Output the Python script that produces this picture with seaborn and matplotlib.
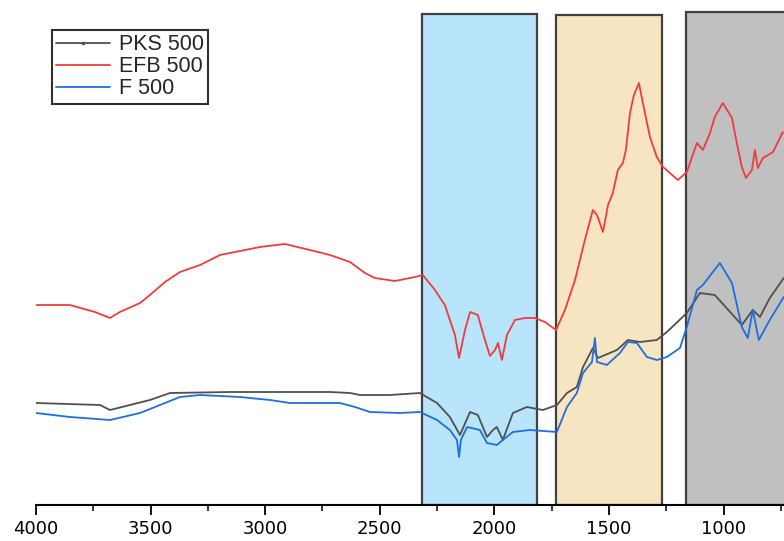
import pandas as pd
import matplotlib.pyplot as plt
from matplotlib.lines import Line2D
import seaborn as sns

# Спектры (волновое число, см-1 -> пропускание, усл. ед.)
efb_wn = [4000, 3852, 3743, 3677, 3634, 3546, 3503, 3437, 3372, 3284, 3197, 3154, 3088, 3023,
          2914, 2805, 2717, 2630, 2565, 2521, 2434, 2346, 2312, 2259, 2216, 2172, 2154, 2128,
          2106, 2072, 2041, 2019, 1997, 1984, 1967, 1945, 1910, 1867, 1823, 1779, 1731, 1692,
          1648, 1605, 1570, 1552, 1526, 1504, 1483, 1461, 1439, 1426, 1408, 1391, 1369, 1352,
          1321, 1291, 1264, 1199, 1160, 1116, 1090, 1059, 1038, 1003, 963, 942, 920, 902, 876,
          863, 850, 828, 784, 741]
efb_t = [200, 200, 193, 187, 193, 202, 210, 223, 233, 240, 250, 252, 255, 258,
         261, 255, 250, 243, 232, 227, 224, 228, 230, 215, 200, 170, 147, 175,
         193, 190, 165, 149, 155, 162, 145, 170, 185, 187, 187, 183, 175, 195,
         225, 265, 295, 290, 273, 300, 312, 335, 342, 355, 392, 410, 422, 402,
         368, 348, 338, 325, 333, 362, 355, 372, 388, 402, 387, 362, 338, 327, 335,
         355, 337, 347, 353, 373]

pks_wn = [4000, 3721, 3677, 3503, 3415, 3154, 2717, 2630, 2586, 2455, 2325,
          2250, 2194, 2150, 2106, 2072, 2032, 2006, 1989, 1963, 1919, 1858, 1788, 1727, 1683,
          1640, 1613, 1570, 1548, 1465, 1417, 1365, 1291, 1247, 1160, 1103, 1038, 920, 872,
          841, 798, 737]
pks_t = [102, 100, 95, 105, 112, 113, 113, 112, 110, 110, 112,
         102, 88, 70, 93, 90, 68, 75, 78, 65, 92, 98, 95, 100, 112,
         118, 138, 157, 147, 155, 165, 163, 165, 173, 192, 212, 210, 180, 195,
         188, 207, 227]

f_wn = [4000, 3852, 3677, 3546, 3459, 3372, 3284, 3110, 2979, 2892, 2674, 2608, 2543, 2412,
        2325, 2250, 2194, 2163, 2154, 2146, 2119, 2063, 2032, 1989, 1963, 1919, 1845, 1727,
        1683, 1640, 1613, 1574, 1561, 1552, 1509, 1452, 1417, 1378, 1334, 1291, 1247, 1190,
        1160, 1116, 1090, 1016, 963, 920, 894, 872, 846, 798, 737]
f_t = [92, 88, 85, 92, 100, 108, 110, 108, 105, 102, 102, 98, 93, 92,
       93, 85, 75, 65, 48, 65, 78, 75, 62, 60, 65, 73, 75, 73,
       98, 112, 132, 143, 167, 143, 140, 152, 163, 162, 148, 145, 148, 157,
       178, 215, 220, 242, 222, 178, 167, 195, 165, 185, 208]

# Выделенные области (см-1)
regions = [(2316, 1814), (1731, 1269), (1164, 600)]
region_colors = ['#b8e4fc', '#f7e5c2', '#c0c0c0']
region_tops = [491, 490, 493]

series = [('PKS 500', pks_wn, pks_t, '#505050'),
          ('EFB 500', efb_wn, efb_t, '#f03c3c'),
          ('F 500', f_wn, f_t, '#1e6fdc')]

sns.set_style('ticks')
plt.rcParams['font.family'] = ['DejaVu Sans']

fig = plt.figure(figsize=(7.84, 5.41), dpi=100)
ax = fig.add_axes([36 / 784, 36 / 541, 748 / 784, 505 / 541])

ymax = 505
for (a, b), col, top in zip(regions, region_colors, region_tops):
    ax.axvspan(a, b, ymin=0, ymax=top / ymax, facecolor=col, edgecolor='#404040',
               linewidth=1.6, zorder=1)

for name, wn, t, col in series:
    df = pd.DataFrame({'wn': wn, 't': t})
    sns.lineplot(data=df, x='wn', y='t', ax=ax, color=col, linewidth=1.3,
                 sort=False, zorder=3)

ax.set_xlim(4000, 736)
ax.set_ylim(0, ymax)
ax.set_xticks([4000, 3500, 3000, 2500, 2000, 1500, 1000])
ax.set_xticks([3750, 3250, 2750, 2250, 1750, 1250, 750], minor=True)
ax.tick_params(axis='x', which='major', direction='out', length=7, width=1.3,
               labelsize=13, colors='black')
ax.tick_params(axis='x', which='minor', direction='out', length=4, width=1.3)
ax.set_yticks([])
ax.set_xlabel('')
ax.set_ylabel('')
for s in ['top', 'right', 'left']:
    ax.spines[s].set_visible(False)
ax.spines['bottom'].set_linewidth(1.5)
ax.spines['bottom'].set_color('black')

handles = [Line2D([], [], color='#505050', linewidth=1.3, marker='s', markersize=2),
           Line2D([], [], color='#f03c3c', linewidth=1.3),
           Line2D([], [], color='#1e6fdc', linewidth=1.3)]
leg = ax.legend(handles, [s[0] for s in series], loc='upper left',
                bbox_to_anchor=(16 / 748, 475 / 505), borderaxespad=0,
                prop={'family': 'Liberation Sans', 'size': 15.5},
                fancybox=False, framealpha=1, edgecolor='#303030',
                handlelength=2.5, handletextpad=0.4, labelspacing=0.05,
                borderpad=0.2)
leg.get_frame().set_linewidth(1.5)

plt.savefig('out.png', dpi=100)
plt.close()
